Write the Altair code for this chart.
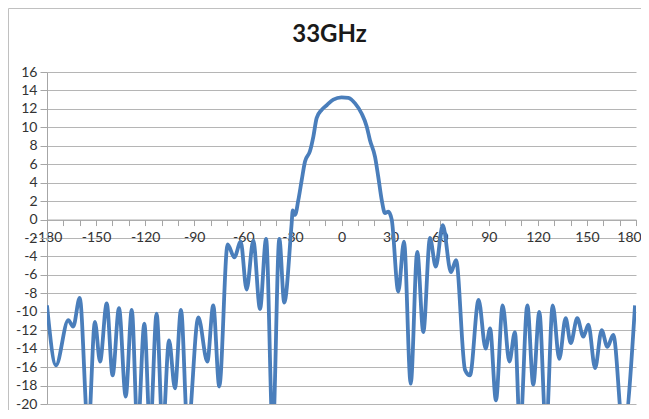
import altair as alt
import pandas as pd

angles = [-180, -174.5, -167, -164, -160, -154.8, -150.7, -147.6, -143.5, -139.9,
          -136, -131.9, -128.2, -124.6, -120.5, -117, -113, -109.3, -105.4, -101.8,
          -98.1, -94, -87.5, -82, -78.4, -74.7, -69.6, -65.5, -61.6, -58,
          -53.9, -49.8, -46.1, -42, -38, -35, -30.5, -29.8, -28.4, -26.4,
          -24.3, -22.3, -19.3, -17.2, -15.2, -12.1, -9, -5, 0, 4.2,
          8.3, 12.3, 15.4, 17.4, 20.5, 22.5, 24.6, 26.6, 28.6, 30.7,
          34.7, 38.2, 42.3, 46.3, 50, 54.1, 57.6, 61.9, 66.9, 70,
          75.5, 78.5, 83.8, 88.1, 90.8, 94.4, 98.5, 102.6, 106, 109.1,
          113.6, 117.2, 120.9, 125, 129.1, 133.1, 137, 140.1, 144.1, 147.8,
          150.9, 155, 159, 162.5, 166.1, 172.2, 179.4]
gain = [-9.3, -15.8, -10.9, -11.6, -8.5, -23, -11.1, -15.4, -9.1, -16.9,
        -9.6, -19.2, -9.8, -23, -11.3, -23, -10.2, -23, -13.1, -18.3,
        -9.8, -23, -10.6, -15.4, -9.3, -18.1, -2.7, -4.1, -2.4, -7.6,
        -2.3, -9.7, -2.1, -23, -2.1, -9.0, -0.5, 1.0, 0.5, 2.1,
        4.3, 6.3, 7.4, 9.0, 11.0, 11.9, 12.4, 13.0, 13.25, 13.2,
        12.6, 11.5, 10.1, 8.6, 6.8, 4.6, 2.1, 0.7, 0.85, 0.0,
        -7.8, -2.4, -17.8, -3.5, -12.2, -2.0, -5.1, -0.6, -5.7, -4.4,
        -16.3, -16.9, -8.7, -14.0, -11.8, -19.6, -9.3, -15.4, -12.2, -23,
        -9.3, -17.9, -10.0, -23, -9.3, -15.1, -10.7, -13.4, -10.7, -12.7,
        -11.4, -16.1, -12.0, -13.8, -12.5, -23, -9.3]

x_ticks = list(range(-180, 181, 10))
y_ticks = list(range(-20, 17, 2))
title_text = "33GHz"

df = pd.DataFrame({"angle": angles, "gain": gain})

W, H = 589, 332
PAD = {"left": 39, "top": 64, "right": 5, "bottom": 6}
FONT = "Lato"
GRAY = "#a6a6a6"

line = alt.Chart(df).mark_line(
    color="#4A7EBB", strokeWidth=3.8, interpolate="monotone", clip=True
).encode(
    x=alt.X("angle:Q",
            scale=alt.Scale(domain=[-180, 180], nice=False, zero=False),
            axis=alt.Axis(values=x_ticks,
                          labelExpr="datum.value % 30 == 0 ? '' + datum.value : ''",
                          labelOffset=alt.ExprRef("datum.value == 180 ? -7 : 0"),
                          offset=-(H * 20 / 36), grid=False,
                          domainColor=GRAY, tickColor=GRAY, tickSize=6,
                          labelFont=FONT, labelFontSize=14, labelColor="#333333",
                          labelPadding=5, labelOverlap=False, labelFlush=False,
                          title=None)),
    y=alt.Y("gain:Q",
            scale=alt.Scale(domain=[-20, 16], nice=False, zero=False),
            axis=alt.Axis(values=y_ticks,
                          labelExpr="'' + datum.value",
                          grid=True, gridColor="#b5b5b5", gridWidth=1,
                          domainColor=GRAY, tickColor=GRAY, tickSize=7,
                          labelFont=FONT, labelFontSize=14, labelColor="#333333",
                          labelPadding=3, labelOverlap=False, labelFlush=False,
                          title=None)),
)

title = alt.Chart(pd.DataFrame({"t": [title_text]})).mark_text(
    font=FONT, fontSize=24, fontWeight="bold", color="#1a1a1a",
    align="center", baseline="alphabetic"
).encode(text="t:N", x=alt.value(282.5), y=alt.value(-30.5))

one = pd.DataFrame({"a": [0]})
border_top = alt.Chart(one).mark_rule(stroke="#c0c0c0", strokeWidth=1).encode(
    x=alt.value(-38.5), x2=alt.value(W + PAD["right"]), y=alt.value(-63.5))
border_left = alt.Chart(one).mark_rule(stroke="#c0c0c0", strokeWidth=1).encode(
    x=alt.value(-38.5), y=alt.value(-63.5), y2=alt.value(H + PAD["bottom"]))

chart = alt.layer(border_top, border_left, line, title).properties(
    width=W, height=H,
    padding=PAD,
    autosize=alt.AutoSizeParams(type="none"),
    background="white",
).configure_view(strokeWidth=0)

chart.save("out.html", embed_options={"renderer": "svg", "actions": False})
